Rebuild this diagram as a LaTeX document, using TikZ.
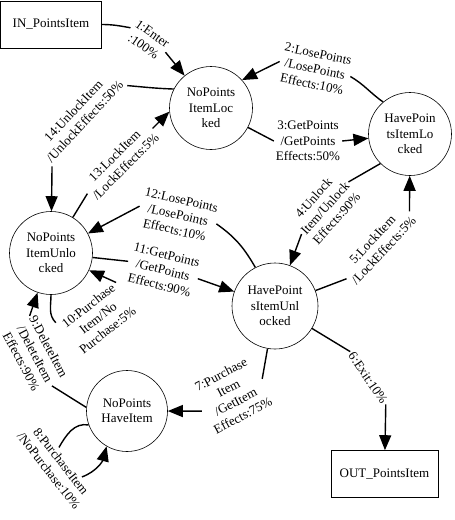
\documentclass[tikz,border=0pt]{standalone}
\usepackage{fontspec}
\setmainfont{Liberation Serif}
\usetikzlibrary{arrows.meta}
\tikzset{
  state/.style={circle, draw, line width=0.6pt, minimum size=83pt, inner sep=0pt, align=center},
  term/.style={rectangle, draw, line width=0.6pt, minimum height=47pt, inner sep=2pt},
  lbl/.style={align=center, inner sep=2pt},
  edge/.style={line width=1.4pt},
  arr/.style={edge, -{Triangle[length=15pt, width=12pt]}},
}
\begin{document}
\begin{tikzpicture}[x=1pt, y=1pt, every node/.style={font=\fontsize{13}{15.5}\selectfont}]
  \useasboundingbox (0,0) rectangle (455,-520);
  \node[term, minimum width=101pt] (in) at (51,-24.5) {IN\_PointsItem};
  \node[term, minimum width=107pt] (out) at (384.5,-474) {OUT\_PointsItem};
  \node[state] (npil) at (211,-108) {NoPoints\\ItemLoc\\ked};
  \node[state] (hpil) at (410,-134) {HavePoin\\tsItemLo\\cked};
  \node[state] (npiu) at (51,-253) {NoPoints\\ItemUnlo\\cked};
  \node[state, minimum size=86pt] (hpiu) at (275,-306) {HavePoint\\sItemUnl\\ocked};
  \node[state, minimum size=81pt] (nphi) at (127,-411) {NoPoints\\HaveItem};

  \node[lbl, rotate=-35] (l1) at (148,-40) {1:Enter\\:100\%};
  \node[lbl, rotate=-12] (l2) at (315,-69) {2:LosePoints\\/LosePoints\\Effects:10\%};
  \node[lbl] (l3) at (308,-141) {3:GetPoints\\/GetPoints\\Effects:50\%};
  \node[lbl, rotate=48] (l4) at (325,-208) {4:Unlock\\Item/Unlock\\Effects:90\%};
  \node[lbl, rotate=47] (l5) at (378,-245) {5:LockItem\\/LockEffects:5\%};
  \node[lbl, rotate=-56] (l6) at (368,-378) {6:Exit:10\%};
  \node[lbl, rotate=28] (l7) at (232,-395) {7:Purchase\\Item\\/GetItem\\Effects:75\%};
  \node[lbl, rotate=-52] (l8) at (55,-466) {8:PurchaseItem\\/NoPurchase:10\%};
  \node[lbl, rotate=-62] (l9) at (35,-354) {9:DeleteItem\\/DeleteItem\\Effects:90\%};
  \node[lbl, rotate=38] (l10) at (98,-318) {10:Purchase\\Item/No\\Purchase:5\%};
  \node[lbl, rotate=-14] (l11) at (163,-270) {11:GetPoints\\/GetPoints\\Effects:90\%};
  \node[lbl, rotate=-13] (l12) at (178,-215) {12:LosePoints\\/LosePoints\\Effects:10\%};
  \node[lbl, rotate=45] (l13) at (120,-161) {13:LockItem\\/LockEffects:5\%};
  \node[lbl, rotate=47] (l14) at (79,-116) {14:UnlockItem\\/UnlockEffects:50\%};

  \draw[edge] (in.east) to[out=0, in=170] (l1.west);
  \draw[arr] (l1.east) -- (npil);
  \draw[edge] (hpil.130) to[out=145, in=-30] (l2.east);
  \draw[arr] (l2.west) -- (npil.42);
  \draw[edge] (npil) -- (l3.west);
  \draw[arr] (l3.east) -- (hpil);
  \draw[edge] (hpil.225) -- (l4.east);
  \draw[arr] (l4.west) -- (hpiu);
  \draw[edge] (hpiu) -- (l5.west);
  \draw[arr] (l5.east) -- (hpil);
  \draw[edge] (hpiu) -- (l6.west);
  \draw[arr] (l6.east) -- (out);
  \draw[edge] (hpiu) -- (l7.east);
  \draw[arr] (l7.west) -- (nphi);
  \draw[edge] (nphi.200) to[out=170, in=60] (l8.130);
  \draw[arr] (l8.30) to[out=20, in=-105] (nphi.240);
  \draw[edge] (nphi.175) -- (l9.east);
  \draw[arr] (l9.160) -- (npiu);
  \draw[edge] (npiu.-90) to[out=-90, in=135] (l10.north west);
  \draw[arr] (l10.25) -- (npiu);
  \draw[edge] (npiu) -- (l11.west);
  \draw[arr] (l11.east) -- (hpiu);
  \draw[edge] (hpiu.117) to[out=120, in=-35] (l12.east);
  \draw[arr] (l12.west) -- (npiu);
  \draw[edge] (npiu) -- (l13.west);
  \draw[arr] (l13.east) -- (npil.185);
  \draw[edge] (npil.153) to[out=178, in=-5] (l14.south east);
  \draw[arr] (l14.south west) -- (npiu);
\end{tikzpicture}
\end{document}
